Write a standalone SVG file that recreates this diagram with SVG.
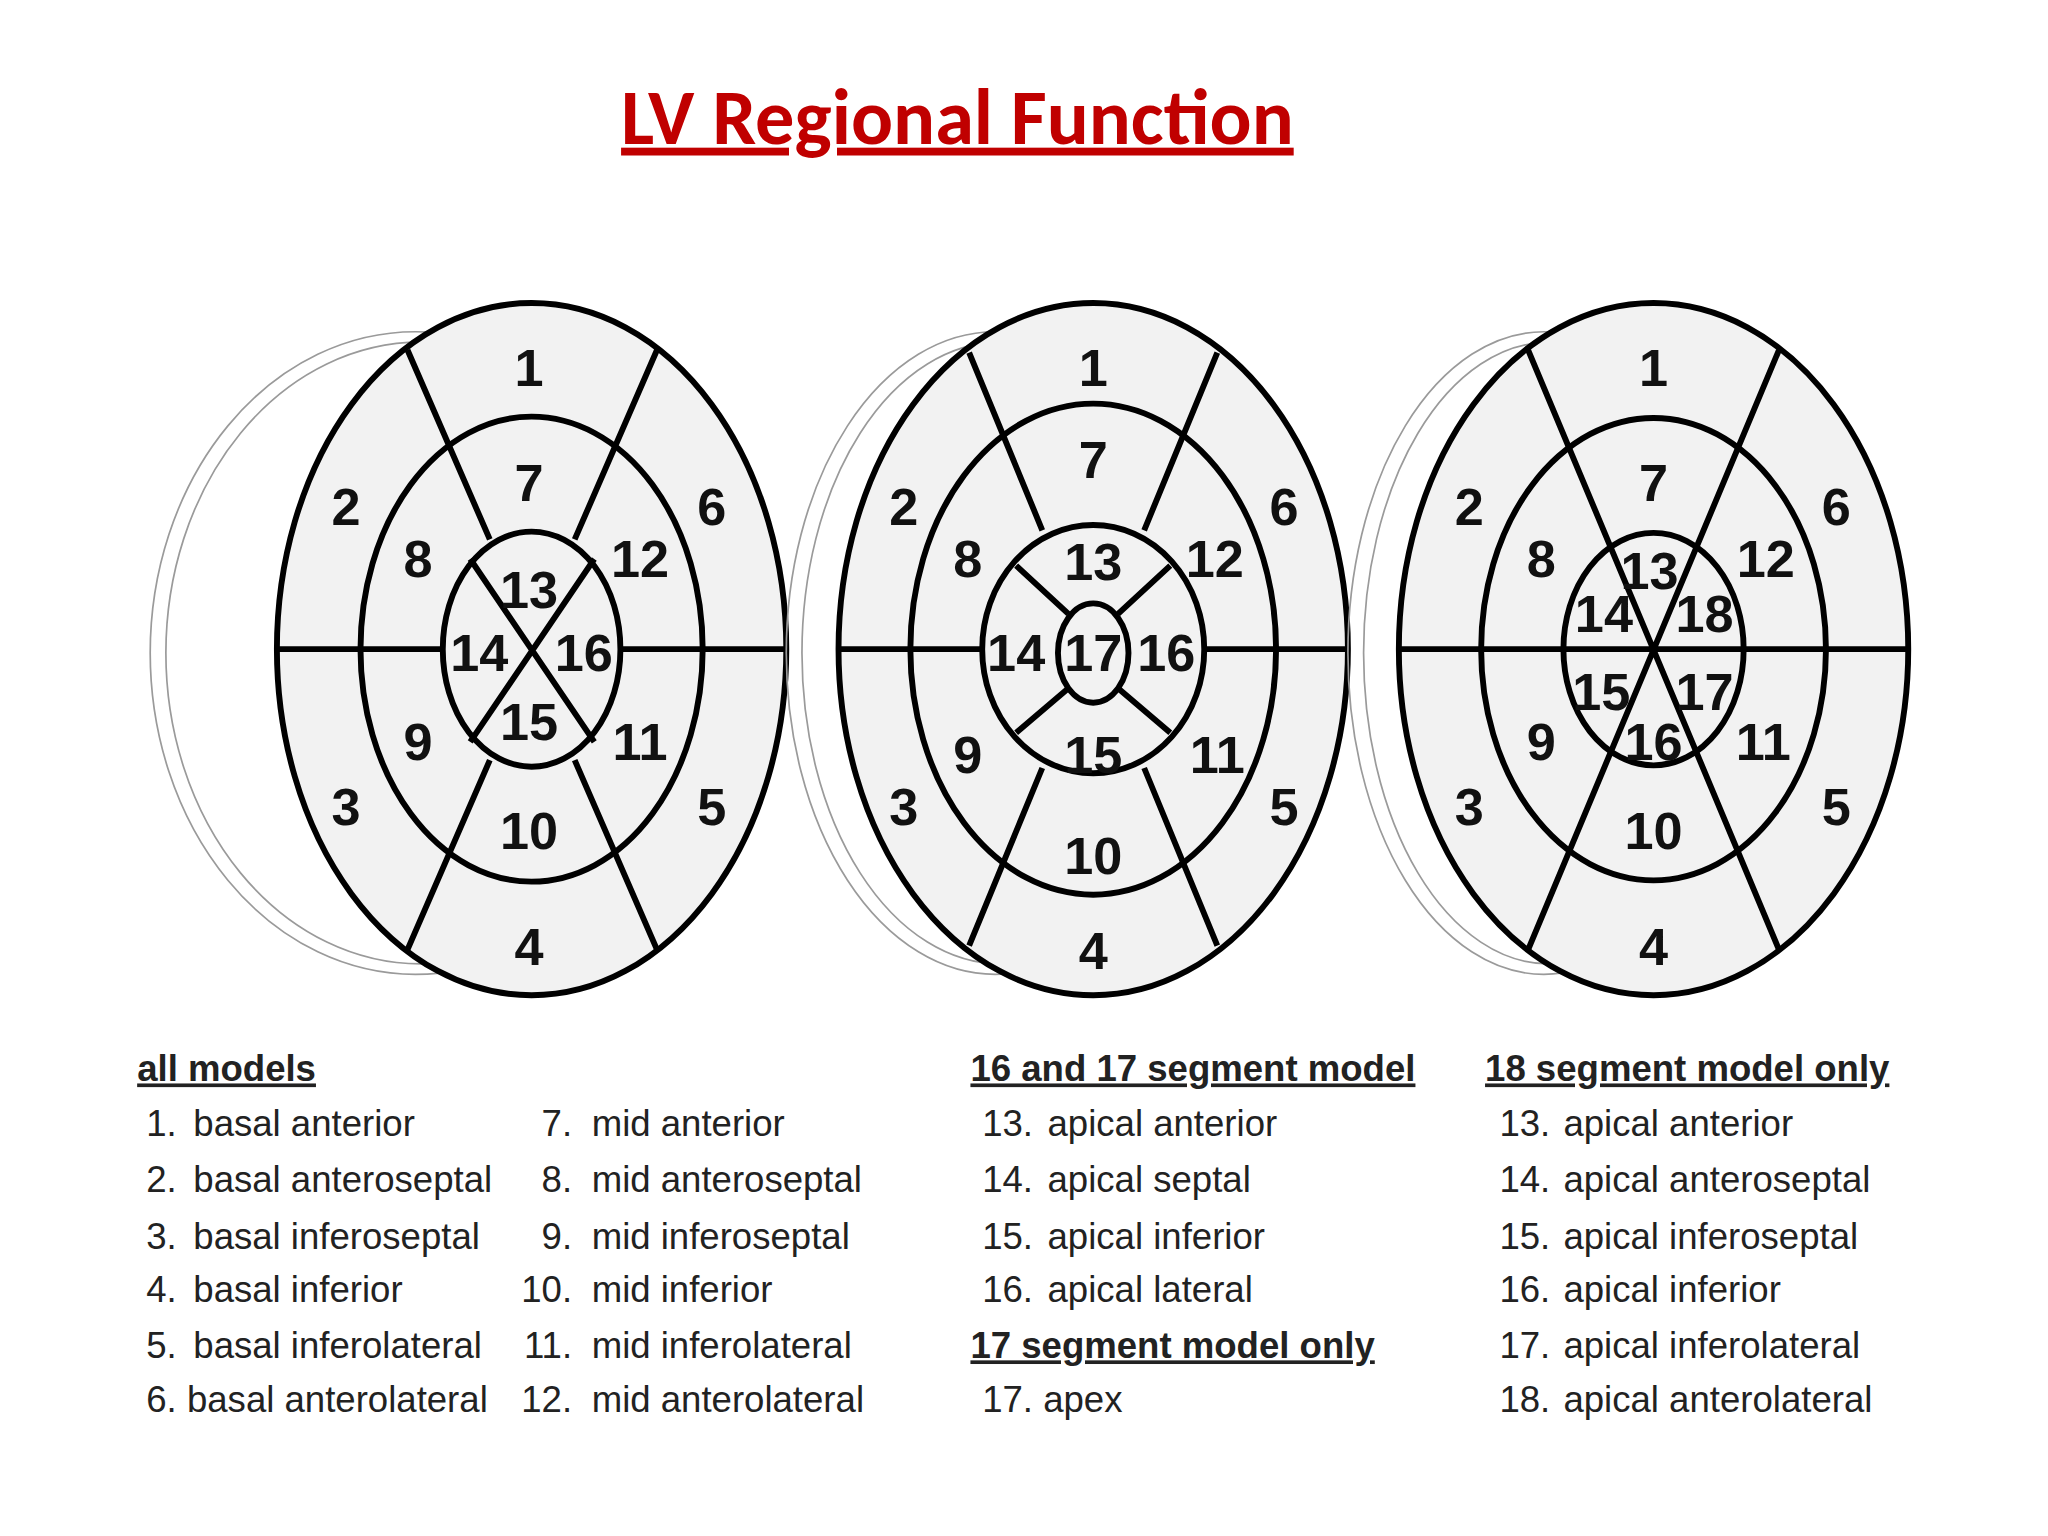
<svg xmlns="http://www.w3.org/2000/svg" width="2048" height="1536" viewBox="0 0 2048 1536">
<style>
.ghost{fill:none;stroke:#9a9a9a;stroke-width:1.3}
.seg{fill:#f2f2f2;stroke:#000;stroke-width:4.5}
.ln{stroke:#000;stroke-width:4.5;fill:none}
.n{font-family:"Liberation Sans Narrow","Liberation Sans",sans-serif;font-weight:bold;font-size:40px;text-anchor:middle;dominant-baseline:central;fill:#111}
.t{font-family:"Liberation Sans Narrow","Liberation Sans",sans-serif;font-size:28px;fill:#222}
.h{font-family:"Liberation Sans Narrow","Liberation Sans",sans-serif;font-size:28px;font-weight:bold;fill:#222;text-decoration:underline}
.r{text-anchor:end}
</style>
<rect width="2048" height="1536" fill="#fff"/>
<g transform="scale(1.30612)">
<text x="733" y="110" text-anchor="middle" font-family="Carlito,'Liberation Sans',sans-serif" font-weight="bold" font-size="60" fill="#c00000" text-decoration="underline">LV Regional Function</text>

<g id="panel1">
<ellipse class="ghost" cx="318" cy="500" rx="203" ry="246"/>
<ellipse class="ghost" cx="322" cy="500" rx="195" ry="238"/>
<ellipse class="seg" cx="407" cy="497" rx="195" ry="265"/>
<ellipse class="ln" cx="407" cy="497" rx="131" ry="178"/>
<ellipse class="ln" cx="407" cy="497" rx="68" ry="90"/>
<path class="ln" d="M312 268L375 413M503 268L440 413M312 727L375 582M503 727L440 582M212 497H340M476 497H602M360 428L455 568M455 428L360 568"/>
<text class="n" x="405" y="282">1</text><text class="n" x="265" y="388">2</text><text class="n" x="545" y="388">6</text>
<text class="n" x="265" y="618">3</text><text class="n" x="545" y="618">5</text><text class="n" x="405" y="725">4</text>
<text class="n" x="405" y="370">7</text><text class="n" x="320" y="428">8</text><text class="n" x="490" y="428">12</text>
<text class="n" x="320" y="568">9</text><text class="n" x="490" y="568">11</text><text class="n" x="405" y="636">10</text>
<text class="n" x="405" y="452">13</text><text class="n" x="367" y="500">14</text><text class="n" x="447" y="500">16</text><text class="n" x="405" y="553">15</text>
</g>

<g id="panel2">
<ellipse class="ghost" cx="762" cy="500" rx="160" ry="246"/>
<ellipse class="ghost" cx="766" cy="500" rx="152" ry="238"/>
<ellipse class="seg" cx="837" cy="497" rx="195" ry="265"/>
<ellipse class="ln" cx="837" cy="497" rx="140" ry="188"/>
<ellipse class="ln" cx="837" cy="497" rx="85" ry="95"/>
<ellipse class="ln" cx="837" cy="500" rx="27" ry="38"/>
<path class="ln" d="M742 270L798 406M932 270L876 406M742 724L798 588M932 724L876 588M642 497H752M922 497H1032M778 433L818 470M896 433L856 470M778 561L818 527M896 561L856 527"/>
<text class="n" x="837" y="282">1</text><text class="n" x="692" y="388">2</text><text class="n" x="983" y="388">6</text>
<text class="n" x="692" y="618">3</text><text class="n" x="983" y="618">5</text><text class="n" x="837" y="728">4</text>
<text class="n" x="837" y="352">7</text><text class="n" x="741" y="428">8</text><text class="n" x="930" y="428">12</text>
<text class="n" x="741" y="578">9</text><text class="n" x="932" y="578">11</text><text class="n" x="837" y="655">10</text>
<text class="n" x="837" y="430">13</text><text class="n" x="778" y="500">14</text><text class="n" x="837" y="500">17</text>
<text class="n" x="893" y="500">16</text><text class="n" x="837" y="578">15</text>
</g>

<g id="panel3">
<ellipse class="ghost" cx="1182" cy="500" rx="150" ry="246"/>
<ellipse class="ghost" cx="1186" cy="500" rx="142" ry="238"/>
<ellipse class="seg" cx="1266" cy="497" rx="195" ry="265"/>
<ellipse class="ln" cx="1266" cy="497" rx="132" ry="177"/>
<ellipse class="ln" cx="1266" cy="497" rx="69" ry="89"/>
<path class="ln" d="M1170 268L1362 727M1362 268L1170 727M1071 497H1461"/>
<text class="n" x="1266" y="282">1</text><text class="n" x="1125" y="388">2</text><text class="n" x="1406" y="388">6</text>
<text class="n" x="1125" y="618">3</text><text class="n" x="1406" y="618">5</text><text class="n" x="1266" y="725">4</text>
<text class="n" x="1266" y="370">7</text><text class="n" x="1180" y="428">8</text><text class="n" x="1352" y="428">12</text>
<text class="n" x="1180" y="568">9</text><text class="n" x="1350" y="568">11</text><text class="n" x="1266" y="636">10</text>
<text class="n" x="1263" y="437">13</text><text class="n" x="1305" y="470">18</text><text class="n" x="1228" y="470">14</text>
<text class="n" x="1226" y="530">15</text><text class="n" x="1305" y="530">17</text><text class="n" x="1266" y="568">16</text>
</g>

<g id="legend">
<text class="h" x="105" y="828">all models</text>
<text class="t" x="112" y="870">1.</text><text class="t" x="148" y="870">basal anterior</text>
<text class="t" x="112" y="913">2.</text><text class="t" x="148" y="913">basal anteroseptal</text>
<text class="t" x="112" y="956">3.</text><text class="t" x="148" y="956">basal inferoseptal</text>
<text class="t" x="112" y="997">4.</text><text class="t" x="148" y="997">basal inferior</text>
<text class="t" x="112" y="1040">5.</text><text class="t" x="148" y="1040">basal inferolateral</text>
<text class="t" x="112" y="1081">6. basal anterolateral</text>
<text class="t r" x="438" y="870">7.</text><text class="t" x="453" y="870">mid anterior</text>
<text class="t r" x="438" y="913">8.</text><text class="t" x="453" y="913">mid anteroseptal</text>
<text class="t r" x="438" y="956">9.</text><text class="t" x="453" y="956">mid inferoseptal</text>
<text class="t r" x="438" y="997">10.</text><text class="t" x="453" y="997">mid inferior</text>
<text class="t r" x="438" y="1040">11.</text><text class="t" x="453" y="1040">mid inferolateral</text>
<text class="t r" x="438" y="1081">12.</text><text class="t" x="453" y="1081">mid anterolateral</text>
<text class="h" x="743" y="828">16 and 17 segment model</text>
<text class="t" x="752" y="870">13.</text><text class="t" x="802" y="870">apical anterior</text>
<text class="t" x="752" y="913">14.</text><text class="t" x="802" y="913">apical septal</text>
<text class="t" x="752" y="956">15.</text><text class="t" x="802" y="956">apical inferior</text>
<text class="t" x="752" y="997">16.</text><text class="t" x="802" y="997">apical lateral</text>
<text class="h" x="743" y="1040">17 segment model only</text>
<text class="t" x="752" y="1081">17. apex</text>
<text class="h" x="1137" y="828">18 segment model only</text>
<text class="t" x="1148" y="870">13.</text><text class="t" x="1197" y="870">apical anterior</text>
<text class="t" x="1148" y="913">14.</text><text class="t" x="1197" y="913">apical anteroseptal</text>
<text class="t" x="1148" y="956">15.</text><text class="t" x="1197" y="956">apical inferoseptal</text>
<text class="t" x="1148" y="997">16.</text><text class="t" x="1197" y="997">apical inferior</text>
<text class="t" x="1148" y="1040">17.</text><text class="t" x="1197" y="1040">apical inferolateral</text>
<text class="t" x="1148" y="1081">18.</text><text class="t" x="1197" y="1081">apical anterolateral</text>
</g>
</g>
</svg>
